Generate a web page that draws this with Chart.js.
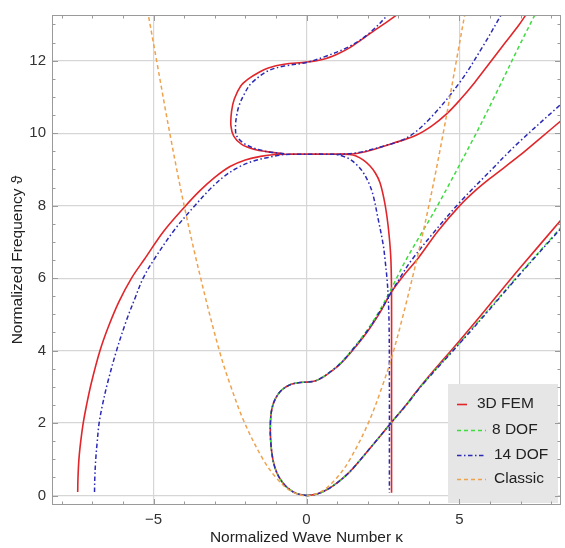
<!DOCTYPE html>
<html><head><meta charset="utf-8">
<style>html,body{margin:0;padding:0;background:#fff;}</style>
<script src="https://cdn.jsdelivr.net/npm/chart.js@4/dist/chart.umd.min.js"></script>
</head><body>
<canvas id="c" width="565" height="548"></canvas>
<script>
// ---- tick labels / ranges ----
const xTicks = [-5, 0, 5];
const yTicks = [0, 2, 4, 6, 8, 10, 12];
const xRange = [-8.32, 8.32];
const yRange = [-0.26, 13.26];
const seriesNames = ["3D FEM", "8 DOF", "14 DOF", "Classic"];
const xTitle = "Normalized Wave Number \u03BA";
const yTitle = "Normalized Frequency \u03D1";

// ---- 3D FEM branches [kappa, theta] ----
const femA = [[-7.48,0.1],[-7.47,0.5],[-7.44,1.0],[-7.38,1.5],[-7.30,2.0],[-7.19,2.5],[-7.03,3.12],[-6.75,4.0],[-6.48,4.65],[-6.13,5.35],[-5.72,6.0],[-5.3,6.52],[-4.68,7.28],[-4.0,7.95],[-3.5,8.4],[-3.0,8.78],[-2.5,9.08],[-2.0,9.26],[-1.5,9.36],[-1.0,9.41],[-0.5,9.42],[0,9.42],[0.6,9.42],[1.1,9.42],[1.4,9.41],[1.62,9.37],[1.85,9.26],[2.07,9.1],[2.25,8.9],[2.4,8.64],[2.53,8.2],[2.63,7.7],[2.71,7.1],[2.76,6.49],[2.78,5.6],[2.78,4.0],[2.78,2.0],[2.78,0.08]];
const femB = [[-0.73,9.43],[-1.3,9.49],[-1.69,9.55],[-2.12,9.69],[-2.38,9.92],[-2.47,10.2],[-2.45,10.6],[-2.36,10.94],[-2.15,11.3],[-1.91,11.49],[-1.55,11.68],[-1.25,11.8],[-0.73,11.9],[0,11.96],[0.55,12.04],[1.0,12.18],[1.42,12.36],[1.8,12.58],[2.18,12.81],[2.6,13.05],[3.05,13.32]];
const femC = [[1.1,9.42],[1.58,9.43],[2.07,9.52],[2.83,9.72],[3.6,9.95],[4.1,10.2],[4.58,10.53],[5.02,10.92],[5.5,11.4],[6.0,11.95],[6.5,12.5],[6.95,12.99],[7.2,13.3]];
const femD = [[0,0],[-0.33,0.06],[-0.6,0.2],[-0.8,0.38],[-0.98,0.65],[-1.1,1.0],[-1.17,1.5],[-1.18,2.0],[-1.13,2.4],[-1.0,2.7],[-0.8,2.92],[-0.5,3.07],[-0.2,3.12],[0,3.13],[0.3,3.17],[0.55,3.27],[0.8,3.42],[1.09,3.62],[1.42,3.92],[1.97,4.5],[2.4,5.05],[2.78,5.62],[3.2,6.1],[3.65,6.55],[4.3,7.3],[5.01,8.0],[5.5,8.4],[6.0,8.75],[6.95,9.37],[7.6,9.83],[8.4,10.4]];
const femE = [[0,0],[0.33,0.04],[0.66,0.16],[1.0,0.35],[1.42,0.66],[2.07,1.3],[2.76,2.0],[3.3,2.55],[3.81,3.1],[5.01,4.28],[6.0,5.28],[6.95,6.25],[8.4,7.68]];

// ---- 8 DOF branches ----
const dof8D = [[0,0],[-0.33,0.06],[-0.6,0.2],[-0.8,0.38],[-0.98,0.65],[-1.1,1.0],[-1.17,1.5],[-1.18,2.0],[-1.13,2.4],[-1.0,2.7],[-0.8,2.92],[-0.5,3.07],[-0.2,3.12],[0,3.13],[0.3,3.17],[0.55,3.28],[0.8,3.43],[1.09,3.64],[1.42,3.95],[1.97,4.55],[2.4,5.12],[2.78,5.72],[3.25,6.5],[4.25,7.95],[5.5,9.92],[6.2,11.1],[6.95,12.4],[7.5,13.32]];
const dof8E = [[0,0],[0.33,0.04],[0.66,0.16],[1.0,0.35],[1.42,0.66],[2.07,1.3],[2.76,2.0],[3.3,2.54],[3.81,3.09],[5.01,4.22],[6.0,5.18],[6.95,6.1],[8.4,7.48]];

// ---- 14 DOF branches ----
const dof14A = [[-6.93,0.1],[-6.92,0.5],[-6.89,1.0],[-6.84,1.5],[-6.78,2.0],[-6.67,2.5],[-6.5,3.12],[-6.21,4.0],[-5.9,4.8],[-5.6,5.46],[-5.34,6.0],[-4.98,6.52],[-4.3,7.35],[-3.65,8.0],[-3.1,8.5],[-2.67,8.82],[-2.2,9.07],[-1.7,9.24],[-1.25,9.33],[-0.73,9.41],[0,9.42],[0.6,9.42],[0.98,9.41],[1.2,9.36],[1.42,9.28],[1.65,9.12],[1.85,8.92],[2.05,8.6],[2.18,8.28],[2.34,7.64],[2.51,6.91],[2.57,6.49],[2.63,6.0],[2.67,5.5],[2.7,4.7],[2.71,3.1],[2.71,0.08]];
const dof14B = [[-0.73,9.43],[-1.4,9.51],[-1.99,9.69],[-2.28,9.92],[-2.32,10.2],[-2.28,10.5],[-2.2,10.77],[-2.02,11.1],[-1.8,11.38],[-1.25,11.72],[-0.73,11.85],[0,11.95],[0.66,12.13],[1.42,12.4],[2.07,12.77],[2.73,13.32]];
const dof14C = [[0.98,9.41],[1.6,9.45],[2.51,9.64],[3.3,9.88],[4.03,10.4],[5.01,11.4],[5.77,12.4],[6.32,13.2],[6.4,13.32]];
const dof14D = [[0,0],[-0.33,0.06],[-0.6,0.2],[-0.8,0.38],[-0.98,0.65],[-1.1,1.0],[-1.17,1.5],[-1.18,2.0],[-1.13,2.4],[-1.0,2.7],[-0.8,2.92],[-0.5,3.07],[-0.2,3.12],[0,3.13],[0.3,3.17],[0.55,3.28],[0.8,3.43],[1.09,3.63],[1.42,3.94],[1.97,4.52],[2.4,5.08],[2.78,5.62],[3.05,6.0],[3.43,6.49],[4.2,7.3],[5.01,8.09],[6.0,8.95],[6.87,9.69],[8.4,10.86]];
const dof14E = [[0,0],[0.33,0.04],[0.66,0.16],[1.0,0.35],[1.42,0.66],[2.07,1.3],[2.76,2.0],[3.3,2.54],[3.81,3.08],[5.01,4.2],[6.0,5.15],[6.95,6.08],[8.4,7.45]];

// ---- Classic ----
const classic = [[-5.2,13.4],[-4.9,12.0],[-4.47,10.0],[-4.0,8.0],[-3.46,6.0],[-2.85,4.0],[-2.47,3.0],[-2.02,2.0],[-1.42,1.0],[-0.98,0.48],[-0.5,0.12],[0,0],[0.5,0.12],[0.98,0.48],[1.42,1.0],[2.02,2.0],[2.47,3.0],[2.85,4.0],[3.46,6.0],[4.0,8.0],[4.47,10.0],[4.9,12.0],[5.2,13.4]];

// ---- styles ----
const styles = {
  "3D FEM": {color:"#e0262a", dash:[], width:1.6, order:4},
  "8 DOF":  {color:"#3fdc3f", dash:[4,3], width:1.5, order:3},
  "14 DOF": {color:"#2a2ab4", dash:[4.5,2.5,1.5,2.5], width:1.5, order:2},
  "Classic":{color:"#eea24e", dash:[4,3], width:1.5, order:1}
};
const branches = [
  ["3D FEM", femA],["3D FEM", femB],["3D FEM", femC],["3D FEM", femD],["3D FEM", femE],
  ["8 DOF", dof8D],["8 DOF", dof8E],
  ["14 DOF", dof14A],["14 DOF", dof14B],["14 DOF", dof14C],["14 DOF", dof14D],["14 DOF", dof14E],
  ["Classic", classic]
];

const datasets = branches.map(([name, pts]) => {
  const s = styles[name];
  return {
    label: name,
    data: pts.map(p => ({x:p[0], y:p[1]})),
    showLine: true, pointRadius: 0, pointHoverRadius: 0,
    borderColor: s.color, backgroundColor: s.color,
    borderWidth: s.width, borderDash: s.dash,
    tension: 0.35, fill: false, order: s.order
  };
});

const FONT = "'Liberation Sans', Arial, sans-serif";

const frameTicks = {
  id: 'frameTicks',
  afterDatasetsDraw(chart) {
    const {ctx, chartArea: a, scales: {x, y}} = chart;
    ctx.save();
    // legend box
    const lb = {x: 448, y: 384, w: 110, h: 119};
    ctx.fillStyle = '#e6e6e6';
    ctx.fillRect(lb.x, lb.y, lb.w, lb.h);
    const rows = [404, 430, 455, 479];
    const sampleEnd = [467, 486, 486, 486];
    const textX = [477, 492, 494, 494];
    seriesNames.forEach((n, i) => {
      const s = styles[n];
      ctx.strokeStyle = s.color; ctx.lineWidth = s.width; ctx.setLineDash(s.dash);
      ctx.beginPath(); ctx.moveTo(457, rows[i] + 0.5); ctx.lineTo(sampleEnd[i], rows[i] + 0.5); ctx.stroke();
      ctx.setLineDash([]);
      ctx.fillStyle = '#222'; ctx.font = '15.5px ' + FONT; ctx.textBaseline = 'middle'; ctx.textAlign = 'left';
      ctx.fillText(n, textX[i], rows[i]);
    });
    // frame
    ctx.strokeStyle = '#9a9a9a'; ctx.lineWidth = 1; ctx.setLineDash([]);
    ctx.strokeRect(a.left + 0.5, a.top + 0.5, a.right - a.left - 1, a.bottom - a.top - 1);
    // ticks
    ctx.beginPath();
    for (let v = -8; v <= 8; v += 1) {
      const px = Math.round(x.getPixelForValue(v)) + 0.5;
      const L = (v % 5 === 0) ? 6 : 3.5;
      ctx.moveTo(px, a.bottom); ctx.lineTo(px, a.bottom - L);
      ctx.moveTo(px, a.top); ctx.lineTo(px, a.top + L);
    }
    for (let v = 0; v <= 13; v += 0.5) {
      const py = Math.round(y.getPixelForValue(v)) + 0.5;
      const L = (Math.abs(v % 2) < 1e-9) ? 6 : 3.5;
      ctx.moveTo(a.left, py); ctx.lineTo(a.left + L, py);
      ctx.moveTo(a.right, py); ctx.lineTo(a.right - L, py);
    }
    ctx.stroke();
    ctx.restore();
  }
};

new Chart(document.getElementById('c'), {
  type: 'scatter',
  data: { datasets },
  options: {
    responsive: false, animation: false, devicePixelRatio: 1,
    layout: { padding: { top: 12, right: 4, left: 0, bottom: 0 } },
    plugins: { legend: { display: false }, tooltip: { enabled: false } },
    scales: {
      x: {
        type: 'linear', min: xRange[0], max: xRange[1],
        afterBuildTicks: s => { s.ticks = xTicks.map(v => ({value: v})); },
        afterFit: s => { s.height = 43; },
        ticks: { font: {family: FONT, size: 15}, color: '#333', padding: 6, maxRotation: 0,
                 callback: v => (v < 0 ? '\u2212' + Math.abs(v) : '' + v) },
        grid: { color: '#d6d6d6', lineWidth: 1.2, drawTicks: false },
        border: { display: false },
        title: { display: true, text: xTitle, font: {family: FONT, size: 15.5}, color: '#222', padding: {top: 0, bottom: 1} }
      },
      y: {
        type: 'linear', min: yRange[0], max: yRange[1],
        afterBuildTicks: s => { s.ticks = yTicks.map(v => ({value: v})); },
        afterFit: s => { s.width = 52; },
        ticks: { font: {family: FONT, size: 15}, color: '#333', padding: 6 },
        grid: { color: '#d6d6d6', lineWidth: 1.2, drawTicks: false },
        border: { display: false },
        title: { display: true, text: yTitle, font: {family: FONT, size: 15.5}, color: '#222', padding: {top: 8, bottom: 0} }
      }
    }
  },
  plugins: [frameTicks]
});
</script>
</body></html>
